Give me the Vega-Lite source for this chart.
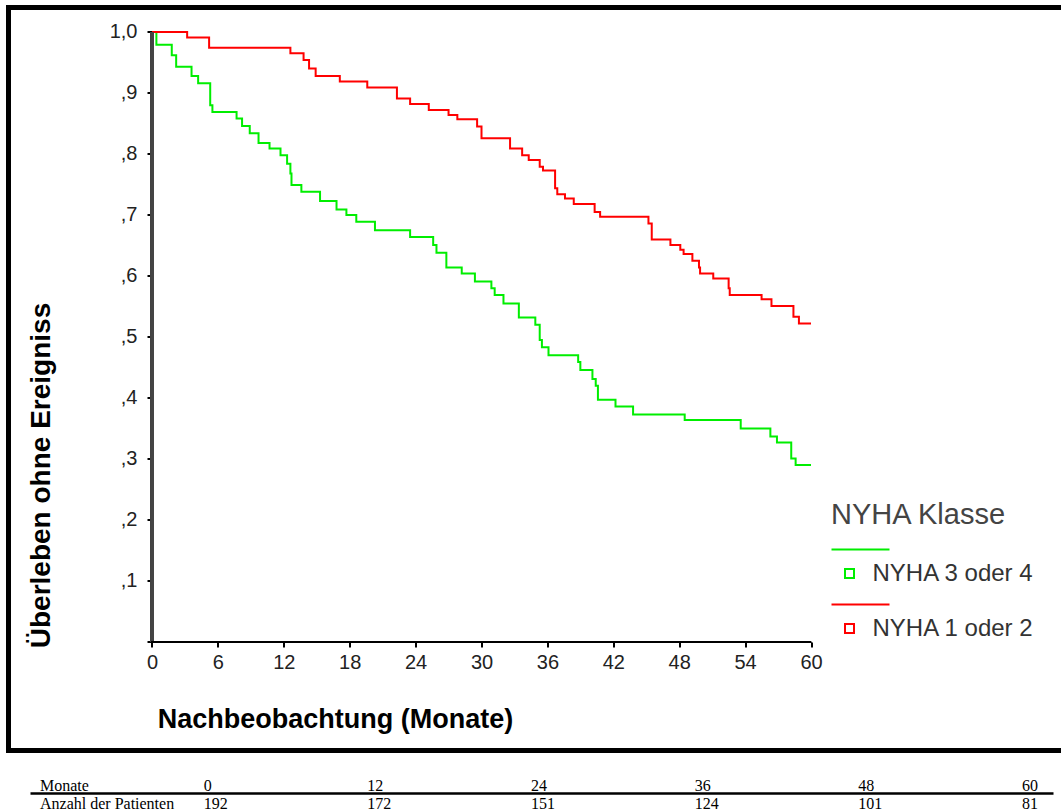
{
  "$schema": "https://vega.github.io/schema/vega-lite/v6.json",
  "autosize": {"type": "none"},
  "padding": {"left": 8.5, "top": 7.5, "right": 0, "bottom": 60.5},
  "background": "white",
  "config": {
    "font": "Liberation Sans",
    "axis": {"grid": false, "domain": false}
  },
  "datasets": {
    "kurven": [
      {"Monat": 0, "Ueberleben": 1.0, "Klasse": "NYHA 3 oder 4"},
      {"Monat": 0.4, "Ueberleben": 0.979, "Klasse": "NYHA 3 oder 4"},
      {"Monat": 1.8, "Ueberleben": 0.962, "Klasse": "NYHA 3 oder 4"},
      {"Monat": 2.2, "Ueberleben": 0.943, "Klasse": "NYHA 3 oder 4"},
      {"Monat": 3.6, "Ueberleben": 0.928, "Klasse": "NYHA 3 oder 4"},
      {"Monat": 4.2, "Ueberleben": 0.916, "Klasse": "NYHA 3 oder 4"},
      {"Monat": 5.3, "Ueberleben": 0.88, "Klasse": "NYHA 3 oder 4"},
      {"Monat": 5.5, "Ueberleben": 0.869, "Klasse": "NYHA 3 oder 4"},
      {"Monat": 7.7, "Ueberleben": 0.858, "Klasse": "NYHA 3 oder 4"},
      {"Monat": 8.2, "Ueberleben": 0.846, "Klasse": "NYHA 3 oder 4"},
      {"Monat": 8.9, "Ueberleben": 0.834, "Klasse": "NYHA 3 oder 4"},
      {"Monat": 9.7, "Ueberleben": 0.818, "Klasse": "NYHA 3 oder 4"},
      {"Monat": 10.7, "Ueberleben": 0.809, "Klasse": "NYHA 3 oder 4"},
      {"Monat": 11.7, "Ueberleben": 0.798, "Klasse": "NYHA 3 oder 4"},
      {"Monat": 12.3, "Ueberleben": 0.784, "Klasse": "NYHA 3 oder 4"},
      {"Monat": 12.6, "Ueberleben": 0.768, "Klasse": "NYHA 3 oder 4"},
      {"Monat": 12.7, "Ueberleben": 0.749, "Klasse": "NYHA 3 oder 4"},
      {"Monat": 13.6, "Ueberleben": 0.738, "Klasse": "NYHA 3 oder 4"},
      {"Monat": 15.3, "Ueberleben": 0.723, "Klasse": "NYHA 3 oder 4"},
      {"Monat": 16.8, "Ueberleben": 0.709, "Klasse": "NYHA 3 oder 4"},
      {"Monat": 17.7, "Ueberleben": 0.7, "Klasse": "NYHA 3 oder 4"},
      {"Monat": 18.6, "Ueberleben": 0.689, "Klasse": "NYHA 3 oder 4"},
      {"Monat": 20.3, "Ueberleben": 0.675, "Klasse": "NYHA 3 oder 4"},
      {"Monat": 23.5, "Ueberleben": 0.664, "Klasse": "NYHA 3 oder 4"},
      {"Monat": 25.6, "Ueberleben": 0.651, "Klasse": "NYHA 3 oder 4"},
      {"Monat": 25.9, "Ueberleben": 0.638, "Klasse": "NYHA 3 oder 4"},
      {"Monat": 26.8, "Ueberleben": 0.614, "Klasse": "NYHA 3 oder 4"},
      {"Monat": 28.2, "Ueberleben": 0.604, "Klasse": "NYHA 3 oder 4"},
      {"Monat": 29.4, "Ueberleben": 0.591, "Klasse": "NYHA 3 oder 4"},
      {"Monat": 30.9, "Ueberleben": 0.58, "Klasse": "NYHA 3 oder 4"},
      {"Monat": 31.2, "Ueberleben": 0.569, "Klasse": "NYHA 3 oder 4"},
      {"Monat": 32.0, "Ueberleben": 0.555, "Klasse": "NYHA 3 oder 4"},
      {"Monat": 33.4, "Ueberleben": 0.532, "Klasse": "NYHA 3 oder 4"},
      {"Monat": 34.9, "Ueberleben": 0.52, "Klasse": "NYHA 3 oder 4"},
      {"Monat": 35.3, "Ueberleben": 0.495, "Klasse": "NYHA 3 oder 4"},
      {"Monat": 35.5, "Ueberleben": 0.483, "Klasse": "NYHA 3 oder 4"},
      {"Monat": 36.1, "Ueberleben": 0.47, "Klasse": "NYHA 3 oder 4"},
      {"Monat": 38.8, "Ueberleben": 0.459, "Klasse": "NYHA 3 oder 4"},
      {"Monat": 39.0, "Ueberleben": 0.446, "Klasse": "NYHA 3 oder 4"},
      {"Monat": 40.1, "Ueberleben": 0.431, "Klasse": "NYHA 3 oder 4"},
      {"Monat": 40.4, "Ueberleben": 0.42, "Klasse": "NYHA 3 oder 4"},
      {"Monat": 40.6, "Ueberleben": 0.397, "Klasse": "NYHA 3 oder 4"},
      {"Monat": 42.2, "Ueberleben": 0.386, "Klasse": "NYHA 3 oder 4"},
      {"Monat": 43.8, "Ueberleben": 0.373, "Klasse": "NYHA 3 oder 4"},
      {"Monat": 48.5, "Ueberleben": 0.364, "Klasse": "NYHA 3 oder 4"},
      {"Monat": 53.6, "Ueberleben": 0.35, "Klasse": "NYHA 3 oder 4"},
      {"Monat": 56.3, "Ueberleben": 0.337, "Klasse": "NYHA 3 oder 4"},
      {"Monat": 56.9, "Ueberleben": 0.327, "Klasse": "NYHA 3 oder 4"},
      {"Monat": 58.2, "Ueberleben": 0.301, "Klasse": "NYHA 3 oder 4"},
      {"Monat": 58.6, "Ueberleben": 0.29, "Klasse": "NYHA 3 oder 4"},
      {"Monat": 60, "Ueberleben": 0.29, "Klasse": "NYHA 3 oder 4"},
      {"Monat": 0, "Ueberleben": 1.0, "Klasse": "NYHA 1 oder 2"},
      {"Monat": 3.2, "Ueberleben": 0.991, "Klasse": "NYHA 1 oder 2"},
      {"Monat": 5.2, "Ueberleben": 0.974, "Klasse": "NYHA 1 oder 2"},
      {"Monat": 12.6, "Ueberleben": 0.965, "Klasse": "NYHA 1 oder 2"},
      {"Monat": 13.8, "Ueberleben": 0.954, "Klasse": "NYHA 1 oder 2"},
      {"Monat": 14.3, "Ueberleben": 0.94, "Klasse": "NYHA 1 oder 2"},
      {"Monat": 14.9, "Ueberleben": 0.928, "Klasse": "NYHA 1 oder 2"},
      {"Monat": 17.1, "Ueberleben": 0.919, "Klasse": "NYHA 1 oder 2"},
      {"Monat": 19.6, "Ueberleben": 0.909, "Klasse": "NYHA 1 oder 2"},
      {"Monat": 22.3, "Ueberleben": 0.891, "Klasse": "NYHA 1 oder 2"},
      {"Monat": 23.5, "Ueberleben": 0.882, "Klasse": "NYHA 1 oder 2"},
      {"Monat": 25.2, "Ueberleben": 0.872, "Klasse": "NYHA 1 oder 2"},
      {"Monat": 27.0, "Ueberleben": 0.864, "Klasse": "NYHA 1 oder 2"},
      {"Monat": 27.8, "Ueberleben": 0.857, "Klasse": "NYHA 1 oder 2"},
      {"Monat": 29.6, "Ueberleben": 0.845, "Klasse": "NYHA 1 oder 2"},
      {"Monat": 30.0, "Ueberleben": 0.826, "Klasse": "NYHA 1 oder 2"},
      {"Monat": 32.6, "Ueberleben": 0.809, "Klasse": "NYHA 1 oder 2"},
      {"Monat": 33.7, "Ueberleben": 0.798, "Klasse": "NYHA 1 oder 2"},
      {"Monat": 34.3, "Ueberleben": 0.79, "Klasse": "NYHA 1 oder 2"},
      {"Monat": 35.3, "Ueberleben": 0.779, "Klasse": "NYHA 1 oder 2"},
      {"Monat": 35.6, "Ueberleben": 0.773, "Klasse": "NYHA 1 oder 2"},
      {"Monat": 36.7, "Ueberleben": 0.744, "Klasse": "NYHA 1 oder 2"},
      {"Monat": 36.9, "Ueberleben": 0.734, "Klasse": "NYHA 1 oder 2"},
      {"Monat": 37.6, "Ueberleben": 0.727, "Klasse": "NYHA 1 oder 2"},
      {"Monat": 38.4, "Ueberleben": 0.718, "Klasse": "NYHA 1 oder 2"},
      {"Monat": 40.3, "Ueberleben": 0.705, "Klasse": "NYHA 1 oder 2"},
      {"Monat": 40.8, "Ueberleben": 0.697, "Klasse": "NYHA 1 oder 2"},
      {"Monat": 45.2, "Ueberleben": 0.686, "Klasse": "NYHA 1 oder 2"},
      {"Monat": 45.5, "Ueberleben": 0.66, "Klasse": "NYHA 1 oder 2"},
      {"Monat": 47.2, "Ueberleben": 0.651, "Klasse": "NYHA 1 oder 2"},
      {"Monat": 48.1, "Ueberleben": 0.643, "Klasse": "NYHA 1 oder 2"},
      {"Monat": 48.4, "Ueberleben": 0.636, "Klasse": "NYHA 1 oder 2"},
      {"Monat": 49.2, "Ueberleben": 0.625, "Klasse": "NYHA 1 oder 2"},
      {"Monat": 49.8, "Ueberleben": 0.614, "Klasse": "NYHA 1 oder 2"},
      {"Monat": 49.9, "Ueberleben": 0.604, "Klasse": "NYHA 1 oder 2"},
      {"Monat": 51.1, "Ueberleben": 0.596, "Klasse": "NYHA 1 oder 2"},
      {"Monat": 52.5, "Ueberleben": 0.58, "Klasse": "NYHA 1 oder 2"},
      {"Monat": 52.6, "Ueberleben": 0.569, "Klasse": "NYHA 1 oder 2"},
      {"Monat": 55.5, "Ueberleben": 0.562, "Klasse": "NYHA 1 oder 2"},
      {"Monat": 56.4, "Ueberleben": 0.551, "Klasse": "NYHA 1 oder 2"},
      {"Monat": 58.4, "Ueberleben": 0.533, "Klasse": "NYHA 1 oder 2"},
      {"Monat": 58.9, "Ueberleben": 0.522, "Klasse": "NYHA 1 oder 2"},
      {"Monat": 60, "Ueberleben": 0.522, "Klasse": "NYHA 1 oder 2"}
    ],
    "tabelle": [
      {"Zeile": "Monate", "Spalte": "Bezeichnung", "Text": "Monate"},
      {"Zeile": "Monate", "Spalte": "0", "Text": "0"},
      {"Zeile": "Monate", "Spalte": "12", "Text": "12"},
      {"Zeile": "Monate", "Spalte": "24", "Text": "24"},
      {"Zeile": "Monate", "Spalte": "36", "Text": "36"},
      {"Zeile": "Monate", "Spalte": "48", "Text": "48"},
      {"Zeile": "Monate", "Spalte": "60", "Text": "60"},
      {"Zeile": "Anzahl der Patienten", "Spalte": "Bezeichnung", "Text": "Anzahl der Patienten"},
      {"Zeile": "Anzahl der Patienten", "Spalte": "0", "Text": "192"},
      {"Zeile": "Anzahl der Patienten", "Spalte": "12", "Text": "172"},
      {"Zeile": "Anzahl der Patienten", "Spalte": "24", "Text": "151"},
      {"Zeile": "Anzahl der Patienten", "Spalte": "36", "Text": "124"},
      {"Zeile": "Anzahl der Patienten", "Spalte": "48", "Text": "101"},
      {"Zeile": "Anzahl der Patienten", "Spalte": "60", "Text": "81"}
    ]
  },
  "width": 1066,
  "height": 743,
  "view": {"stroke": "black", "strokeWidth": 5},
  "resolve": {
    "scale": {"x": "independent", "y": "independent"},
    "axis": {"x": "independent", "y": "independent"}
  },
  "layer": [
    {
      "data": {"name": "kurven"},
      "layer": [
        {
          "mark": {"type": "line", "interpolate": "step-after", "strokeWidth": 2},
          "encoding": {
            "x": {
              "field": "Monat",
              "type": "quantitative",
              "scale": {"domain": [-13.065, 83.99], "nice": false, "zero": false},
              "axis": {
                "orient": "bottom",
                "title": "Nachbeobachtung (Monate)",
                "offset": -108.5,
                "values": [0, 6, 12, 18, 24, 30, 36, 42, 48, 54, 60],
                "tickSize": 5,
                "tickWidth": 2,
                "tickColor": "black",
                "labelFontSize": 20,
                "labelColor": "#222",
                "labelPadding": 5,
                "labelFlush": false,
                "titleFontSize": 27,
                "titleFontWeight": "bold",
                "titleColor": "black",
                "titleX": 326.5,
                "titleY": 85,
                "titleAlign": "center",
                "titleBaseline": "alphabetic"
              }
            },
            "y": {
              "field": "Ueberleben",
              "type": "quantitative",
              "scale": {"domain": [-0.17787, 1.04016], "nice": false, "zero": false},
              "axis": {
                "orient": "left",
                "title": "Überleben ohne Ereigniss",
                "offset": -143.5,
                "values": [0, 0.1, 0.2, 0.3, 0.4, 0.5, 0.6, 0.7, 0.8, 0.9, 1],
                "labelExpr": "datum.value == 0 ? '' : (datum.value >= 0.999 ? '1,0' : ',' + round(datum.value * 10))",
                "tickSize": 5,
                "tickWidth": 2,
                "tickColor": "black",
                "labelFontSize": 20,
                "labelColor": "#222",
                "labelPadding": 10,
                "labelFlush": false,
                "titleFontSize": 28,
                "titleFontWeight": "bold",
                "titleColor": "black",
                "titleAngle": -90,
                "titleX": -103,
                "titleY": 467.5,
                "titleAlign": "center",
                "titleBaseline": "alphabetic"
              }
            },
            "color": {
              "field": "Klasse",
              "type": "nominal",
              "scale": {"domain": ["NYHA 3 oder 4", "NYHA 1 oder 2"], "range": ["#00ee00", "#ff0000"]},
              "legend": {
                "title": "NYHA Klasse",
                "orient": "none",
                "legendX": 822.5,
                "legendY": 493,
                "padding": 0,
                "titleFontSize": 29,
                "titleFontWeight": "normal",
                "titleColor": "#444",
                "titlePadding": 32,
                "titleLimit": 400,
                "labelFontSize": 24,
                "labelColor": "#333",
                "labelLimit": 400,
                "symbolType": "M-0.9,-0.9H0.9V0.9H-0.9Z M-3.6,-4.8H8",
                "symbolSize": 100,
                "symbolStrokeWidth": 2,
                "symbolFillColor": "transparent",
                "symbolOffset": 6.5,
                "labelOffset": 11,
                "rowPadding": 15
              }
            }
          }
        },
        {
          "mark": {"type": "rule", "color": "#444", "strokeWidth": 2.5},
          "encoding": {"x": {"datum": 0, "type": "quantitative"}, "y": {"datum": 0, "type": "quantitative"}, "y2": {"datum": 1}}
        },
        {
          "mark": {"type": "rule", "color": "black", "strokeWidth": 2},
          "encoding": {"x": {"datum": 0, "type": "quantitative"}, "x2": {"datum": 60}, "y": {"datum": 0, "type": "quantitative"}}
        }
      ]
    },
    {
      "data": {"name": "tabelle"},
      "mark": {"type": "text", "align": "left", "baseline": "alphabetic", "font": "Liberation Serif", "fontSize": 16, "color": "black"},
      "encoding": {
        "x": {
          "field": "Spalte",
          "type": "ordinal",
          "sort": ["Bezeichnung", "0", "12", "24", "36", "48", "60"],
          "scale": {"type": "point", "range": [21.5, 1044.5], "padding": 0.12525, "align": 0.2439},
          "axis": {
            "orient": "bottom",
            "offset": 42.5,
            "domain": true,
            "domainColor": "black",
            "domainWidth": 2.5,
            "ticks": false,
            "labels": false,
            "title": null
          }
        },
        "y": {
          "field": "Zeile",
          "type": "ordinal",
          "sort": ["Monate", "Anzahl der Patienten"],
          "scale": {"type": "point", "range": [783, 801.5], "padding": 0},
          "axis": null
        },
        "text": {"field": "Text", "type": "nominal"}
      }
    }
  ]
}
